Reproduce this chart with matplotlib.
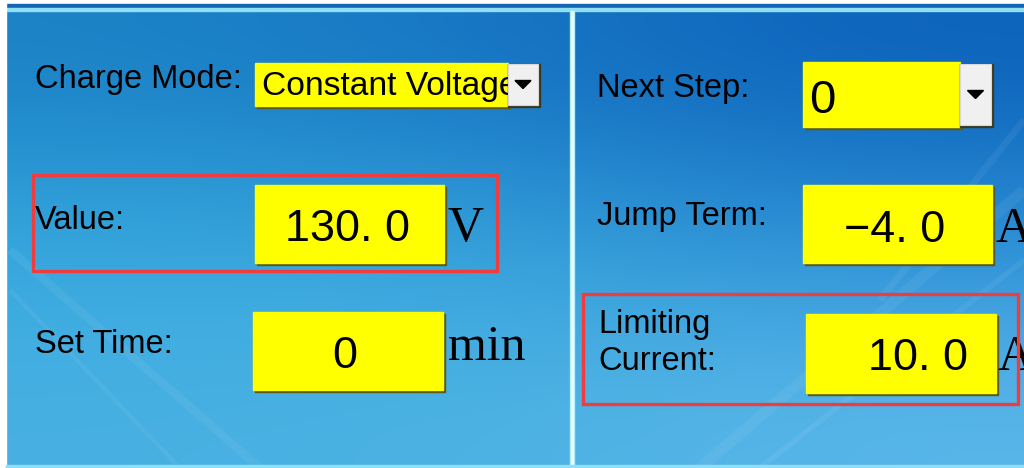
import numpy as np
import matplotlib.pyplot as plt
from matplotlib.patches import Rectangle, Polygon

# ── 数据 ──────────────────────────────────────────────
labels = ["Charge Mode:", "Value:", "Set Time:", "Next Step:", "Jump Term:", "Limiting\nCurrent:"]
values = ["Constant Voltage", "130. 0", "0", "0", "\u22124. 0", "10. 0"]
units = ["", "V", "min", "", "A", "A"]

# ── 布局 (像素, y 向下) ──────────────────────────────
W, H = 1024, 468
label_pos = [(35, 88), (35, 229), (35, 353), (597, 97), (597, 225), (598, 333)]
box_pos = [(255, 63, 253, 43), (255, 185, 189, 78), (253, 312, 190, 78),
           (803, 62, 157, 65), (803, 185, 189, 78), (806, 314, 190, 79)]
text_pos = [(262, 95, "left", 24.2), (410, 241, "right", 32.4), (345, 368, "center", 32.4),
            (809, 113, "left", 34), (945, 242, "right", 32.4), (968, 370, "right", 32.4)]
unit_pos = [None, (448, 241), (448, 360), None, (995, 242), (997, 370)]
button_pos = {0: (508, 64, 30, 41), 3: (960, 64, 31, 61)}
red_boxes = [(33, 175, 464, 96), (583, 294, 435, 110)]

fig = plt.figure(figsize=(W / 100, H / 100), dpi=100)
ax = fig.add_axes([0, 0, 1, 1])

# --- 背景渐变 ---
grid = np.array([
    [[27, 130, 198], [22, 115, 195], [13, 99, 187]],
    [[54, 169, 223], [53, 162, 218], [42, 143, 214]],
    [[72, 176, 226], [77, 179, 227], [90, 183, 234]],
]) / 255.0
ax.imshow(grid, extent=(6, W, H, 11), interpolation="bicubic", aspect="auto", zorder=0)
ax.set_xlim(0, W)
ax.set_ylim(H, 0)
ax.axis("off")

# 淡淡的斜线
for x0, y0, x1, y1, lw in [(10, 250, 260, 468, 6), (10, 290, 180, 468, 3),
                           (700, 468, 1024, 190, 8), (760, 468, 1024, 260, 4),
                           (880, 300, 1024, 120, 5)]:
    ax.plot([x0, x1], [y0, y1], color="white", alpha=0.06, lw=lw, zorder=1,
            solid_capstyle="butt")

# 边框线
ax.add_patch(Rectangle((0, 0), W, 4, color="white", zorder=2))
ax.add_patch(Rectangle((0, 4), W, 4, color="#1466b5", zorder=2))
ax.add_patch(Rectangle((0, 8), W, 3, color="#8fe0f5", zorder=2))
ax.add_patch(Rectangle((0, 0), 6, H, color="white", zorder=2))
ax.add_patch(Rectangle((570, 11), 4, H, color="#a8ecfa", zorder=2))
ax.add_patch(Rectangle((571, 11), 2, H, color="#e8fbff", zorder=2))
ax.add_patch(Rectangle((6, 465), W, 3, color="#8fe0f5", zorder=2))

sans = "Liberation Sans"
serif = "Liberation Serif"

for i, lab in enumerate(labels):
    lx, ly = label_pos[i]
    for k, line in enumerate(lab.split("\n")):
        ax.text(lx, ly + 37 * k, line, fontsize=23.5, family=sans, va="baseline", zorder=5)

    bx, by, bw, bh = box_pos[i]
    ax.add_patch(Rectangle((bx + 2, by + 2), bw, bh, color="#5c5a12", zorder=3))
    box = Rectangle((bx, by), bw, bh, color="#ffff00", zorder=4)
    ax.add_patch(box)

    tx, ty, ha, fs = text_pos[i]
    t = ax.text(tx, ty, values[i], fontsize=fs, family=sans, ha=ha,
                va="baseline", zorder=5)
    t.set_clip_path(box)

    if units[i]:
        ux, uy = unit_pos[i]
        ax.text(ux, uy, units[i], fontsize=36, family=serif, va="baseline", zorder=5)

    if i in button_pos:
        gx, gy, gw, gh = button_pos[i]
        ax.add_patch(Rectangle((gx, gy), gw + 2, gh + 2, color="#3a3a20", zorder=4))
        ax.add_patch(Rectangle((gx, gy), gw, gh, facecolor="#f0f0f0",
                               edgecolor="#d8d8d8", lw=0.8, zorder=5))
        cx, cy = gx + gw / 2, gy + gh / 2
        ax.add_patch(Polygon([(cx - 8, cy - 4), (cx + 8, cy - 4), (cx, cy + 4)],
                             color="black", zorder=6))

for rx, ry, rw, rh in red_boxes:
    ax.add_patch(Rectangle((rx, ry), rw, rh, fill=False, edgecolor="#f03c3c",
                           lw=2.4, zorder=7))

plt.savefig("out.png", dpi=100)
